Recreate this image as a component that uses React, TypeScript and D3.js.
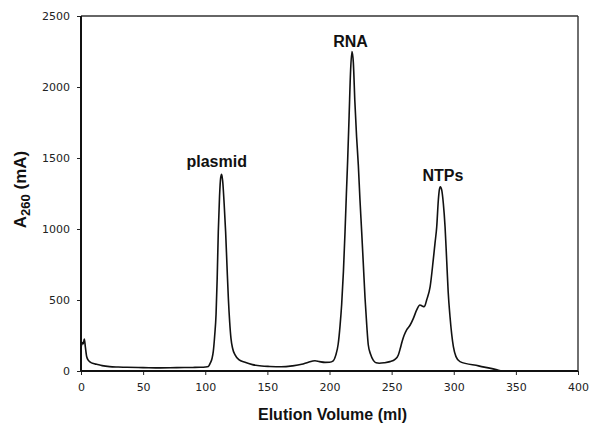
import React, { useEffect, useRef } from 'react';
import * as d3 from 'd3';

// elution volume (ml) and absorbance A260 (mA)
const volume = [
  0, 1, 1.7, 2.7, 3.5, 4.6, 6, 7.2, 10, 12.6, 17, 23, 30, 37, 50, 64, 77, 90, 96, 100,
  102.5, 104, 105.5, 106.5, 107.6, 108.7, 109.6, 110.5, 111.5, 112.4, 113.2, 114, 115.2, 116.4, 117.5, 118.6,
  119.7, 120.7, 122, 124, 127, 132, 138, 145.4, 152, 161, 170, 177.6, 183, 188.3, 192, 196.4, 200, 203,
  205, 207, 208.5, 209.8, 211.2, 212.5, 213.6, 214.6, 215.8, 217, 218.1, 219.2, 220.4, 221.8, 223.2, 224.5,
  225.9, 227.3, 228.6, 230, 231.2, 233, 235.3, 237.5, 240, 244, 248.7, 252.7, 255.4, 257, 258.5, 260, 262.1,
  264.8, 267.5, 270.2, 272.8, 274.5, 276.3, 278.2, 281, 283.5, 284.9, 286.3, 287.6, 288.4, 289.2, 290.3,
  291.6, 293, 294.3, 295.5, 297, 299.7, 301.8, 305, 320, 336, 338
];
const absorbance = [
  160, 200, 190, 225, 170, 100, 75, 65, 52, 47, 38, 31, 28, 26, 24, 22, 24, 25, 26, 28,
  32, 55, 90, 140, 250, 400, 650, 980, 1230, 1360, 1385, 1340, 1180, 980, 740, 510,
  340, 230, 160, 113, 80, 61, 45, 35, 32, 30, 36, 47, 62, 72, 66, 61, 62, 72,
  110, 190, 320, 470, 700, 980, 1250, 1480, 1800, 2120, 2250, 2170, 1900, 1650, 1450, 1210,
  980, 740, 514, 320, 185, 120, 75, 58, 55, 58, 66, 82, 113, 160, 210, 250, 290,
  322, 371, 430, 465, 458, 453, 500, 594, 782, 899, 1016, 1204, 1275, 1298, 1275,
  1181, 1016, 782, 560, 382, 171, 101, 66, 36, 5, 0
];

const xTicks = [0, 50, 100, 150, 200, 250, 300, 350, 400];
const yTicks = [0, 500, 1000, 1500, 2000, 2500];

const peakNames = ['plasmid', 'RNA', 'NTPs'];
const peakVolume = [109.2, 216.9, 291.3];
const peakLabelLevel = [1439, 2284, 1340];

function Chromatogram() {
  const canvas = useRef<SVGSVGElement>(null);

  useEffect(() => {
    const width = 590;
    const height = 425;
    const margin = { top: 16, left: 81, bottom: 54, right: 12 };
    const iwidth = width - margin.left - margin.right;
    const iheight = height - margin.top - margin.bottom;

    const svg = d3.select(canvas.current).attr('width', width).attr('height', height);
    svg.selectAll('*').remove();

    const g = svg.append('g').attr('transform', `translate(${margin.left},${margin.top})`);

    const x = d3.scaleLinear().domain([0, 400]).range([0, iwidth]);
    const y = d3.scaleLinear().domain([0, 2500]).range([iheight, 0]);

    const tickFont = (sel: any) => {
      sel.select('.domain').remove();
      sel.selectAll('line').attr('stroke', '#222').attr('stroke-width', 1);
      sel.selectAll('text')
        .attr('font-family', 'DejaVu Sans')
        .attr('font-size', 11)
        .attr('fill', '#222');
    };

    g.append('g')
      .attr('transform', `translate(0, ${iheight})`)
      .call(d3.axisBottom(x).tickValues(xTicks).tickSize(4).tickPadding(8).tickFormat(d3.format('d')))
      .call(tickFont);

    g.append('g')
      .call(d3.axisLeft(y).tickValues(yTicks).tickSize(4).tickPadding(7).tickFormat(d3.format('d')))
      .call(tickFont);

    // frame
    g.append('line').attr('x1', 0).attr('x2', iwidth).attr('y1', 0).attr('y2', 0)
      .attr('stroke', '#333').attr('stroke-width', 1.4);
    g.append('line').attr('x1', iwidth).attr('x2', iwidth).attr('y1', 0).attr('y2', iheight)
      .attr('stroke', '#333').attr('stroke-width', 1.4);
    g.append('line').attr('x1', 0).attr('x2', 0).attr('y1', 0).attr('y2', iheight)
      .attr('stroke', '#111').attr('stroke-width', 2);
    g.append('line').attr('x1', 0).attr('x2', iwidth).attr('y1', iheight).attr('y2', iheight)
      .attr('stroke', '#111').attr('stroke-width', 2);

    const pts: [number, number][] = volume.map((v, i) => [v, absorbance[i]]);
    const line = d3.line<[number, number]>()
      .x(d => x(d[0]))
      .y(d => y(d[1]))
      .curve(d3.curveMonotoneX);

    g.append('path')
      .datum(pts)
      .attr('d', line)
      .attr('fill', 'none')
      .attr('stroke', '#111')
      .attr('stroke-width', 1.6)
      .attr('stroke-linejoin', 'round');

    g.selectAll('text.peak')
      .data(peakNames)
      .enter()
      .append('text')
      .attr('class', 'peak')
      .attr('x', (d, i) => x(peakVolume[i]))
      .attr('y', (d, i) => y(peakLabelLevel[i]))
      .attr('text-anchor', 'middle')
      .attr('font-family', 'Liberation Sans, Arial, sans-serif')
      .attr('font-weight', 'bold')
      .attr('font-size', 16)
      .attr('fill', '#111')
      .text(d => d);

    svg.append('text')
      .attr('x', margin.left + iwidth / 2 + 3)
      .attr('y', 420)
      .attr('text-anchor', 'middle')
      .attr('font-family', 'Liberation Sans, Arial, sans-serif')
      .attr('font-weight', 'bold')
      .attr('font-size', 16)
      .attr('fill', '#111')
      .text('Elution Volume (ml)');

    const yl = svg.append('text')
      .attr('transform', `translate(26, ${margin.top + iheight / 2 - 4}) rotate(-90)`)
      .attr('text-anchor', 'middle')
      .attr('font-family', 'Liberation Sans, Arial, sans-serif')
      .attr('font-weight', 'bold')
      .attr('font-size', 17)
      .attr('fill', '#111');
    yl.append('tspan').text('A');
    yl.append('tspan').attr('font-size', 13).attr('dy', 4).text('260');
    yl.append('tspan').attr('dy', -4).text(' (mA)');
  });

  return (
    <svg ref={canvas} style={{ position: 'absolute', left: 0, top: 0, background: '#fff' }}></svg>
  );
}

export default function App() {
  return <Chromatogram />;
}
